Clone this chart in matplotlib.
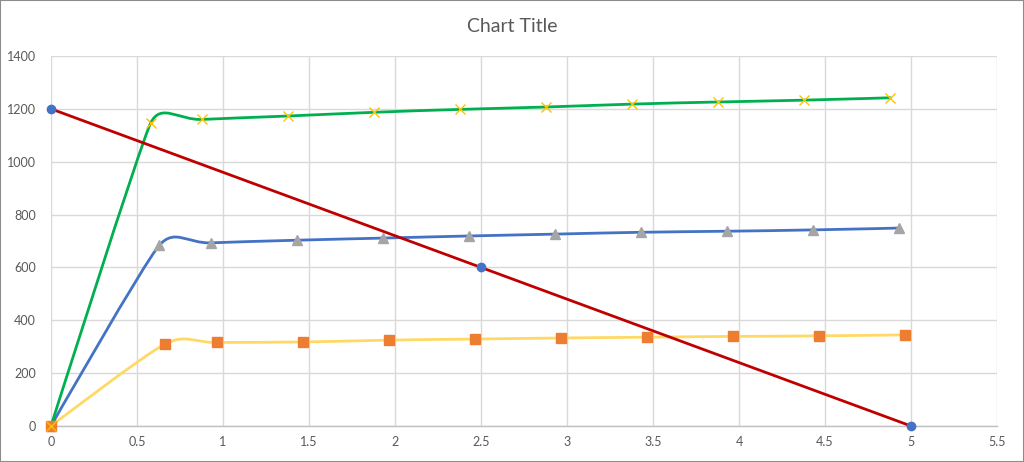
import numpy as np
import matplotlib
matplotlib.use("Agg")
import matplotlib.pyplot as plt
from matplotlib.path import Path
from matplotlib.patches import PathPatch, Rectangle

plt.rcParams['font.family'] = ['Lato', 'DejaVu Sans']

# ---- data ----
green_x = [0, 0.58, 0.88, 1.38, 1.88, 2.38, 2.88, 3.38, 3.88, 4.38, 4.88]
green_y = [0, 1147, 1160, 1173, 1187, 1198, 1207, 1218, 1226, 1233, 1242]

blue_x = [0, 0.63, 0.93, 1.43, 1.93, 2.43, 2.93, 3.43, 3.93, 4.43, 4.93]
blue_y = [0, 684, 693, 703, 711, 719, 726, 733, 737, 742, 749]

yellow_x = [0, 0.665, 0.965, 1.465, 1.965, 2.465, 2.965, 3.465, 3.965, 4.465, 4.965]
yellow_y = [0, 311, 316, 318, 325, 329, 333, 336, 339, 341, 345]

red_x = [0, 2.5, 5]
red_y = [1200, 600, 0]

x_ticks = [0, 0.5, 1, 1.5, 2, 2.5, 3, 3.5, 4, 4.5, 5, 5.5]
x_labels = ['0', '0.5', '1', '1.5', '2', '2.5', '3', '3.5', '4', '4.5', '5', '5.5']
y_ticks = [0, 200, 400, 600, 800, 1000, 1200, 1400]

title = "Chart Title"

fig = plt.figure(figsize=(10.24, 4.62), dpi=100)
ax = fig.add_axes([51/1024, 36/462, (997-51)/1024, (426-56)/462])
ax.set_xlim(0, 5.5)
ax.set_ylim(0, 1400)


def smooth_path(xs, ys, s=0.45):
    pts = ax.transData.transform(np.column_stack([xs, ys]))
    n = len(pts)
    tans = []
    for i in range(n):
        if i == 0 or i == n - 1:
            tans.append(np.zeros(2))
            continue
        d = pts[i + 1] - pts[i - 1]
        dn = np.hypot(*d)
        m = min(np.hypot(*(pts[i] - pts[i - 1])), np.hypot(*(pts[i + 1] - pts[i])))
        tans.append(d / dn * m * s if dn > 0 else np.zeros(2))
    verts = [pts[0]]
    codes = [Path.MOVETO]
    for i in range(n - 1):
        verts += [pts[i] + tans[i], pts[i + 1] - tans[i + 1], pts[i + 1]]
        codes += [Path.CURVE4] * 3
    verts = ax.transData.inverted().transform(np.array(verts))
    return Path(verts, codes)


for xs, ys, col in [(yellow_x, yellow_y, '#FFD966'),
                    (blue_x, blue_y, '#4472C4'),
                    (green_x, green_y, '#00B050'),
                    (red_x, red_y, '#C00000')]:
    ax.add_patch(PathPatch(smooth_path(xs, ys), facecolor='none', edgecolor=col,
                           lw=2.0, capstyle='round', joinstyle='round', zorder=3,
                           clip_on=False))

ax.plot(blue_x, blue_y, ls='none', marker='^', ms=7, color='#A5A5A5', zorder=4, clip_on=False)
ax.plot(yellow_x, yellow_y, ls='none', marker='s', ms=7, color='#ED7D31', zorder=5, clip_on=False)
ax.plot(green_x, green_y, ls='none', marker='x', ms=7, mew=1.0, color='#FFC000', zorder=6, clip_on=False)
ax.plot(red_x, red_y, ls='none', marker='o', ms=6, color='#4472C4', zorder=7, clip_on=False)

ax.set_xticks(x_ticks)
ax.set_xticklabels(x_labels)
ax.set_yticks(y_ticks)
ax.grid(True, color='#D9D9D9', lw=1.0, zorder=0)
ax.set_axisbelow(True)
for s in ['top', 'right', 'left']:
    ax.spines[s].set_visible(False)
ax.spines['bottom'].set_color('#BFBFBF')
ax.spines['bottom'].set_linewidth(1.0)
ax.tick_params(axis='both', length=0, labelsize=9, colors='#595959', pad=7)
ax.tick_params(axis='y', pad=11)

fig.text(512/1024, 1 - 26/462, title, ha='center', va='center', fontsize=14, color='#595959')
fig.patches.append(Rectangle((0, 0), 1, 1, transform=fig.transFigure, fill=False,
                             edgecolor='#8C8C8C', lw=1.5))

fig.savefig('out.png', dpi=100)
